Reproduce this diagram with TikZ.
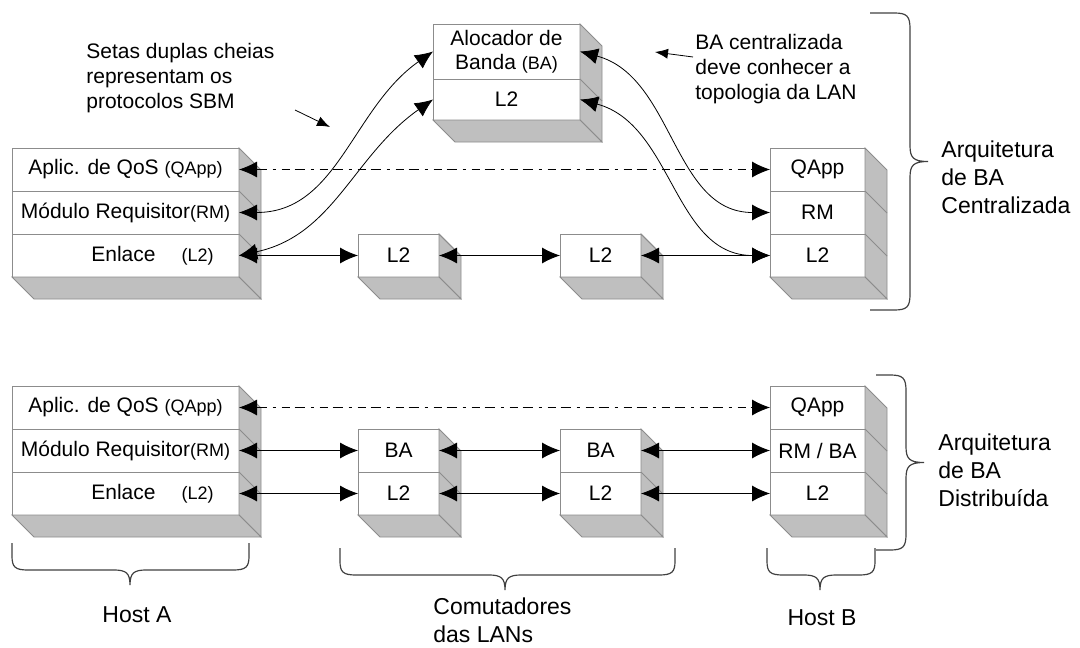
\documentclass[tikz,border=0pt]{standalone}
\usepackage{fontspec}
\setmainfont{Liberation Sans}
\usetikzlibrary{positioning, arrows.meta}
\tikzstyle{layer}=[draw=black!45, fill=white, inner sep=1pt, outer sep=0pt, minimum height=21.5pt, font=\fontsize{10.5}{12}\selectfont]
\tikzstyle{host}=[layer, minimum width=113.5pt]
\tikzstyle{sw}=[layer, minimum width=40.5pt]
\tikzstyle{peer}=[layer, minimum width=47.5pt]
\tikzstyle{side}=[draw=black!45, fill=black!25]
\tikzstyle{sig}=[dash pattern=on 5pt off 3pt on 1.5pt off 3pt on 4pt off 2.5pt]
\tikzstyle{brc}=[draw=black!75, line width=0.6pt]
\tikzstyle{note}=[align=left, inner sep=0pt, font=\fontsize{10.5}{12.5}\selectfont]
\tikzstyle{archtext}=[align=left, inner sep=0pt, font=\fontsize{11.5}{14}\selectfont]
\tikzstyle{ptr}=[-{Latex[length=6.5pt,width=5pt]}]

\newcommand{\sm}[1]{{\fontsize{9}{10}\selectfont #1}}
% 3d look: side and bottom faces of a stack of rows
\newcommand{\solid}[3]{%
  \filldraw[side] (#1.north east) -- ([shift={(22,22)}]#1.north east) -- ([shift={(22,22)}]#2.south east) -- (#2.south east) -- cycle;
  \filldraw[side] (#2.south west) -- (#2.south east) -- ([shift={(22,22)}]#2.south east) -- ([shift={(22,22)}]#2.south west) -- cycle;
  \foreach \rw in {#3} \draw[side] (\rw.north east) -- ++(22,22);
}
% brace with the tip down
\newcommand{\downbrace}[5]{%
  \draw[brc] (#1,#3) -- (#1,{#4-14}) .. controls (#1,{#4-3}) and ({#1+3},#4) .. ({#1+16},#4) -- ({#5-16},#4) .. controls ({#5-4},#4) and (#5,{#4+3}) .. (#5,{#4+15}) .. controls (#5,{#4+3}) and ({#5+4},#4) .. ({#5+16},#4) -- ({#2-16},#4) .. controls ({#2-3},#4) and (#2,{#4-3}) .. (#2,{#4-14}) -- (#2,#3);
}
% brace with the tip to the right
\newcommand{\rightbrace}[4]{%
  \draw[brc] (#1,#2) -- ({#4-16},#2) .. controls ({#4-3},#2) and (#4,{#2+3}) .. (#4,{#2+16}) -- (#4,{(#2+#3)/2-16}) .. controls (#4,{(#2+#3)/2-4}) and ({#4+3},{(#2+#3)/2}) .. ({#4+18},{(#2+#3)/2}) .. controls ({#4+3},{(#2+#3)/2}) and (#4,{(#2+#3)/2+4}) .. (#4,{(#2+#3)/2+16}) -- (#4,{#3-16}) .. controls (#4,{#3-3}) and ({#4-3},#3) .. ({#4-16},#3) -- (#1,#3);
}

\begin{document}
\begin{tikzpicture}[x=0.5pt, y=-0.5pt, >={Latex[length=9pt,width=8pt]}]
  \useasboundingbox (0,0) rectangle (1080,647);

  % BA centralizada
  \node[host, anchor=north west] (haq) at (12,148) {Aplic. de QoS \sm{(QApp)}};
  \node[host, below=0pt of haq] (har) {Módulo Requisitor\sm{(RM)}};
  \node[host, below=0pt of har] (hal) {\hspace*{27pt}Enlace\hspace{13pt}\sm{(L2)}};

  \node[sw, anchor=north west] (l2a) at (358,234) {L2};
  \node[sw, anchor=north west] (l2b) at (560,234) {L2};

  \node[peer, anchor=north west] (hbq) at (770,148) {QApp};
  \node[peer, below=0pt of hbq] (hbr) {RM};
  \node[peer, below=0pt of hbr] (hbl) {L2};

  \node[layer, minimum width=73.5pt, minimum height=27.5pt, align=center, anchor=north west] (alloc) at (433,24) {Alocador de\\Banda \sm{(BA)}};
  \node[layer, minimum width=73.5pt, minimum height=20.5pt, below=0pt of alloc] (allocl2) {L2};

  % BA distribuida
  \node[host, anchor=north west] (dhaq) at (12,386) {Aplic. de QoS \sm{(QApp)}};
  \node[host, below=0pt of dhaq] (dhar) {Módulo Requisitor\sm{(RM)}};
  \node[host, below=0pt of dhar] (dhal) {\hspace*{27pt}Enlace\hspace{13pt}\sm{(L2)}};

  \node[sw, anchor=north west] (swab) at (358,429) {BA};
  \node[sw, below=0pt of swab] (swal) {L2};
  \node[sw, anchor=north west] (swbb) at (560,429) {BA};
  \node[sw, below=0pt of swbb] (swbl) {L2};

  \node[peer, anchor=north west] (dhbq) at (770,386) {QApp};
  \node[peer, below=0pt of dhbq] (dhbr) {RM / BA};
  \node[peer, below=0pt of dhbr] (dhbl) {L2};

  \solid{haq}{hal}{har,hal}
  \solid{l2a}{l2a}{l2a}
  \solid{l2b}{l2b}{l2b}
  \solid{hbq}{hbl}{hbr,hbl}
  \solid{alloc}{allocl2}{allocl2}
  \solid{dhaq}{dhal}{dhar,dhal}
  \solid{swab}{swal}{swal}
  \solid{swbb}{swbl}{swbl}
  \solid{dhbq}{dhbl}{dhbr,dhbl}

  \draw[<->, sig] (haq.east) -- (hbq.west);
  \draw[<->] (hal.east) -- (l2a.west);
  \draw[<->] (l2a.east) -- (l2b.west);
  \draw[<->] (l2b.east) -- (hbl.west);
  \draw[<->] (har.east) to[out=0, in=215] (alloc.west);
  \draw[<->] (hal.east) to[out=12, in=215] (allocl2.west);
  \draw[<->] (alloc.east) to[out=-15, in=180] (hbr.west);
  \draw[<->] (allocl2.east) to[out=-15, in=180] (hbl.west);

  \draw[<->, sig] (dhaq.east) -- (dhbq.west);
  \draw[<->] (dhar.east) -- (swab.west);
  \draw[<->] (swab.east) -- (swbb.west);
  \draw[<->] (swbb.east) -- (dhbr.west);
  \draw[<->] (dhal.east) -- (swal.west);
  \draw[<->] (swal.east) -- (swbl.west);
  \draw[<->] (swbl.east) -- (dhbl.west);

  % notes
  \node[note, anchor=west] (setas) at (86,78) {Setas duplas cheias\\representam os\\protocolos SBM};
  \coordinate (setasfrom) at (295,110);
  \coordinate (setasto) at (330,127);
  \draw[ptr] (setasfrom) -- (setasto);
  \node[note, anchor=west] (central) at (695,69) {BA centralizada\\deve conhecer a\\topologia da LAN};
  \coordinate (centralfrom) at (693,57);
  \coordinate (centralto) at (655,52);
  \draw[ptr] (centralfrom) -- (centralto);

  \rightbrace{870}{13}{310}{910}
  \rightbrace{876}{375}{550}{906}
  \node[archtext, anchor=west] (archc) at (941,177) {Arquitetura\\de BA\\Centralizada};
  \node[archtext, anchor=west] (archd) at (938,470) {Arquitetura\\de BA\\Distribuída};

  \downbrace{12}{249}{543}{570}{130}
  \downbrace{340}{675}{548}{575}{505}
  \downbrace{767}{875}{548}{575}{820}
  \node[archtext] (hosta) at (137,615) {Host A};
  \node[archtext, anchor=west] (comut) at (433,620) {Comutadores\\das LANs};
  \node[archtext] (hostb) at (822,618) {Host B};
\end{tikzpicture}
\end{document}
